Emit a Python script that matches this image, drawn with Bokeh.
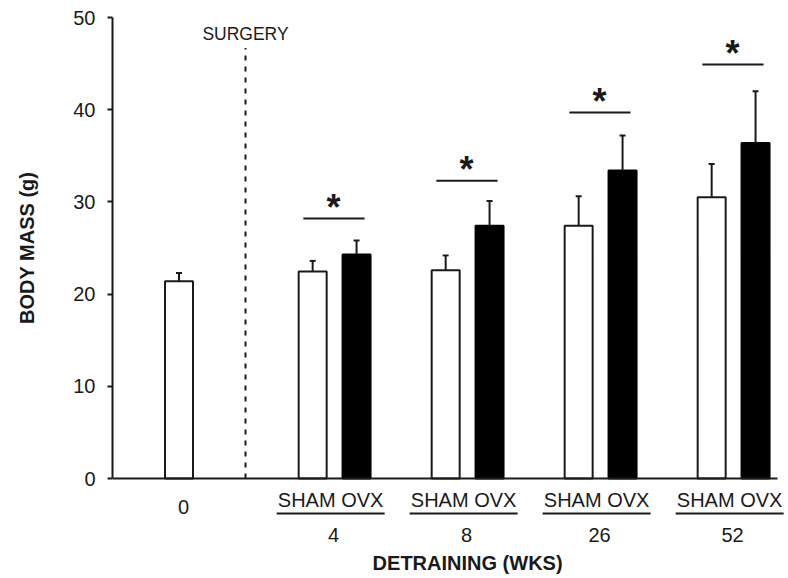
from bokeh.plotting import figure
from bokeh.models import ColumnDataSource, Whisker, TeeHead, FixedTicker, Range1d
from bokeh.core.properties import value
from bokeh.embed import file_html
from bokeh.resources import INLINE

# ---- data ----
baseline_label = "0"
baseline_mean = [21.4]
baseline_sd = [0.9]

groups = ["4", "8", "26", "52"]
sham_mean = [22.45, 22.6, 27.4, 30.5]
sham_sd = [1.15, 1.6, 3.2, 3.6]
ovx_mean = [24.3, 27.4, 33.4, 36.4]
ovx_sd = [1.5, 2.7, 3.8, 5.6]
sig_y = [28.2, 32.3, 39.7, 44.9]
sub_label = "SHAM OVX"
y_ticks = [0, 10, 20, 30, 40, 50]
surgery_label = "SURGERY"
x_title = "DETRAINING (WKS)"
y_title = "BODY MASS (g)"

FONT = "Liberation Sans"
INK = "#1a1a1a"
TXT_OFF = -7

# ---- layout positions (categorical slots) ----
base_x = 0.0
group_x = [1.17 + i for i in range(len(groups))]
off = 0.165
bw = 0.2105
surgery_x = 0.5

p = figure(width=788, height=578, output_backend="svg", toolbar_location=None,
           x_axis_type=None, x_range=Range1d(-0.5, 4.5827), y_range=Range1d(-10.846, 51.844),
           min_border_left=112, min_border_right=0, min_border_top=0, min_border_bottom=0)
p.outline_line_color = None
p.grid.visible = False
p.background_fill_color = "white"

ax = p.yaxis[0]
ax.ticker = FixedTicker(ticks=y_ticks)
ax.bounds = (0, 50)
ax.axis_line_width = 2
ax.axis_line_color = INK
ax.major_tick_line_width = 2
ax.major_tick_line_color = INK
ax.major_tick_out = 5
ax.major_tick_in = 0
ax.minor_tick_line_color = None
ax.major_label_text_font = FONT
ax.major_label_text_font_size = "20px"
ax.major_label_text_color = INK
ax.major_label_standoff = 12
# leading no-break spaces lift the visible title to the middle of the 0-50 span
ax.axis_label = "\u00a0" * 15 + y_title
ax.axis_label_text_font = FONT
ax.axis_label_text_font_size = "20px"
ax.axis_label_text_font_style = "bold"
ax.axis_label_text_color = INK
ax.axis_label_standoff = 32

# bars
xs_sham = [g - off for g in group_x]
xs_ovx = [g + off for g in group_x]
white = ColumnDataSource(dict(x=[base_x] + xs_sham, top=baseline_mean + sham_mean,
                              upper=[m + s for m, s in zip(baseline_mean + sham_mean, baseline_sd + sham_sd)]))
black = ColumnDataSource(dict(x=xs_ovx, top=ovx_mean,
                              upper=[m + s for m, s in zip(ovx_mean, ovx_sd)]))

for src in (white, black):
    w = Whisker(source=src, base="x", lower="top", upper="upper", dimension="height",
                line_width=2, line_color=INK, lower_head=None,
                upper_head=TeeHead(size=6, line_width=2, line_color=INK), level="overlay")
    p.add_layout(w)

p.vbar(x="x", top="top", bottom=0, width=bw, source=white, fill_color="white",
       line_color=INK, line_width=2)
p.vbar(x="x", top="top", bottom=0, width=bw, source=black, fill_color="black",
       line_color="black", line_width=2)

# x axis line
p.segment(x0=[-0.5], y0=[0], x1=[4.5], y1=[0], line_width=2, line_color=INK)

# surgery dashed line
p.segment(x0=[surgery_x], y0=[0], x1=[surgery_x], y1=[46.7], line_width=2,
          line_color=INK, line_dash="5 6")
p.text(x=[surgery_x], y=[47.43], text=[surgery_label], text_font=value(FONT),
       text_font_size="17.5px", text_align="center", text_baseline="alphabetic",
       y_offset=TXT_OFF, text_color=INK)

# significance bars
p.segment(x0=[g - 0.235 for g in group_x], y0=sig_y, x1=[g + 0.225 for g in group_x], y1=sig_y,
          line_width=2, line_color=INK)
p.text(x=[g - 0.008 for g in group_x], y=sig_y, text=["*"] * len(groups), text_font=value(FONT),
       text_font_size="36px", text_font_style="bold", text_align="center",
       text_baseline="alphabetic", y_offset=-11, text_color=INK)

# category labels
p.text(x=[base_x + 0.035], y=[-3.83], text=[baseline_label], text_font=value(FONT),
       text_font_size="20px", text_align="center", text_baseline="alphabetic",
       y_offset=TXT_OFF, text_color=INK)
p.text(x=[g - 0.03 for g in group_x], y=[-3.04] * len(groups), text=[sub_label] * len(groups),
       text_font=value(FONT), text_font_size="20px", text_align="center",
       text_baseline="alphabetic", y_offset=TXT_OFF, text_color=INK)
p.segment(x0=[g - 0.436 for g in group_x], y0=[-3.8] * len(groups),
          x1=[g + 0.376 for g in group_x], y1=[-3.8] * len(groups), line_width=2, line_color=INK)
p.text(x=[g - 0.008 for g in group_x], y=[-6.9] * len(groups), text=groups,
       text_font=value(FONT), text_font_size="20px", text_align="center",
       text_baseline="alphabetic", y_offset=TXT_OFF, text_color=INK)
p.text(x=[group_x[1]], y=[-9.87], text=[x_title], text_font=value(FONT),
       text_font_size="20px", text_font_style="bold", text_align="center",
       text_baseline="alphabetic", y_offset=TXT_OFF, text_color=INK)

open("out.html", "w").write(file_html(p, INLINE))
